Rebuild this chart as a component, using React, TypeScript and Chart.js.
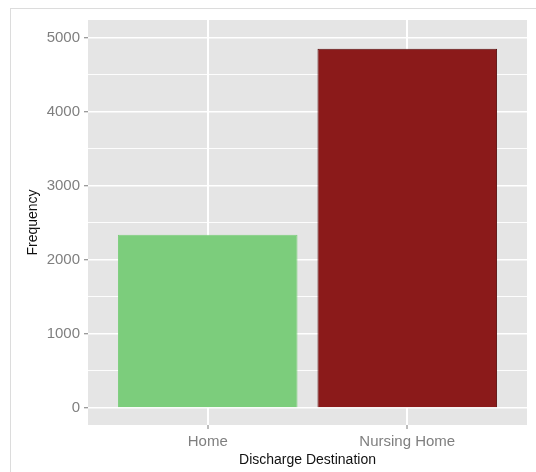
import { useEffect, useRef } from 'react';
import { Chart, registerables } from 'chart.js';

Chart.register(...registerables);

const categories = ['Home', 'Nursing Home'];
const frequencies = [2338, 4851];
const barColors = ['#7CCD7C', '#8B1A1A'];
const barBorders = ['#7CCD7C', '#5a1010'];
const yTicks = [0, 500, 1000, 1500, 2000, 2500, 3000, 3500, 4000, 4500, 5000];
const xTitle = 'Discharge Destination';
const yTitle = 'Frequency';

const FONT = "'Liberation Sans', Arial, sans-serif";

const panelBg = {
  id: 'panelBg',
  beforeDraw(chart: any) {
    const { ctx, chartArea } = chart;
    ctx.save();
    ctx.fillStyle = '#E5E5E5';
    ctx.fillRect(chartArea.left, chartArea.top, chartArea.right - chartArea.left, chartArea.bottom - chartArea.top);
    ctx.restore();
  },
};

export default function App() {
  const ref = useRef<HTMLCanvasElement | null>(null);

  useEffect(() => {
    if (!ref.current) return;
    const chart = new Chart(ref.current, {
      type: 'bar',
      data: {
        datasets: [
          {
            data: frequencies.map((v, i) => ({ x: i, y: v })),
            backgroundColor: barColors,
            borderColor: barBorders,
            borderWidth: 1,
            barPercentage: 0.9,
            categoryPercentage: 1,
          },
        ],
      },
      options: {
        animation: false,
        responsive: false,
        devicePixelRatio: 1,
        layout: { padding: { left: 0, top: 20, right: 9, bottom: 0 } },
        plugins: { legend: { display: false }, tooltip: { enabled: false } },
        scales: {
          x: {
            type: 'linear',
            min: -0.6,
            max: 1.6,
            offset: false,
            afterBuildTicks: (scale: any) => {
              scale.ticks = categories.map((_, i) => ({ value: i }));
            },
            afterFit: (scale: any) => {
              scale.height = 47;
            },
            grid: {
              offset: false,
              color: '#ffffff',
              lineWidth: 2,
              tickColor: '#7a7a7a',
              tickWidth: 1,
              tickLength: 4,
            },
            border: { display: false },
            ticks: {
              autoSkip: false,
              maxRotation: 0,
              padding: 4,
              color: '#7f7f7f',
              font: { family: FONT, size: 15 },
              callback: (v: any) => categories[Math.round(Number(v))] ?? '',
            },
            title: {
              display: true,
              text: xTitle,
              color: '#111111',
              font: { family: FONT, size: 14 },
              padding: { top: 0, bottom: 3 },
            },
          },
          y: {
            min: -230,
            max: 5240,
            afterBuildTicks: (scale: any) => {
              scale.ticks = yTicks.map((v) => ({ value: v }));
            },
            afterFit: (scale: any) => {
              scale.width = 88;
            },
            grid: {
              color: '#ffffff',
              lineWidth: (ctx: any) => (ctx.tick && ctx.tick.value % 1000 === 0 ? 1.5 : 0.9),
              tickColor: (ctx: any) => (ctx.tick && ctx.tick.value % 1000 === 0 ? '#7a7a7a' : 'rgba(0,0,0,0)'),
              tickWidth: 1,
              tickLength: 4,
            },
            border: { display: false },
            ticks: {
              autoSkip: false,
              padding: 4,
              color: '#7f7f7f',
              font: { family: FONT, size: 15 },
              callback: (v: any) => (Number(v) % 1000 === 0 ? String(v) : ''),
            },
            title: {
              display: true,
              text: yTitle,
              color: '#111111',
              font: { family: FONT, size: 14 },
              padding: { top: 25, bottom: 0 },
            },
          },
        },
      },
      plugins: [panelBg],
    } as any);
    return () => chart.destroy();
  }, []);

  return (
    <div style={{ position: 'absolute', left: 0, top: 0, width: 536, height: 472, background: '#fff', overflow: 'hidden' }}>
      <div
        style={{
          position: 'absolute',
          left: 10,
          top: 8,
          width: 526,
          height: 464,
          borderTop: '1px solid #dcdcdc',
          borderLeft: '1px solid #dcdcdc',
          boxSizing: 'border-box',
        }}
      />
      <canvas
        ref={ref}
        width={536}
        height={472}
        style={{ position: 'absolute', left: 0, top: 0, width: 536, height: 472 }}
      />
    </div>
  );
}
